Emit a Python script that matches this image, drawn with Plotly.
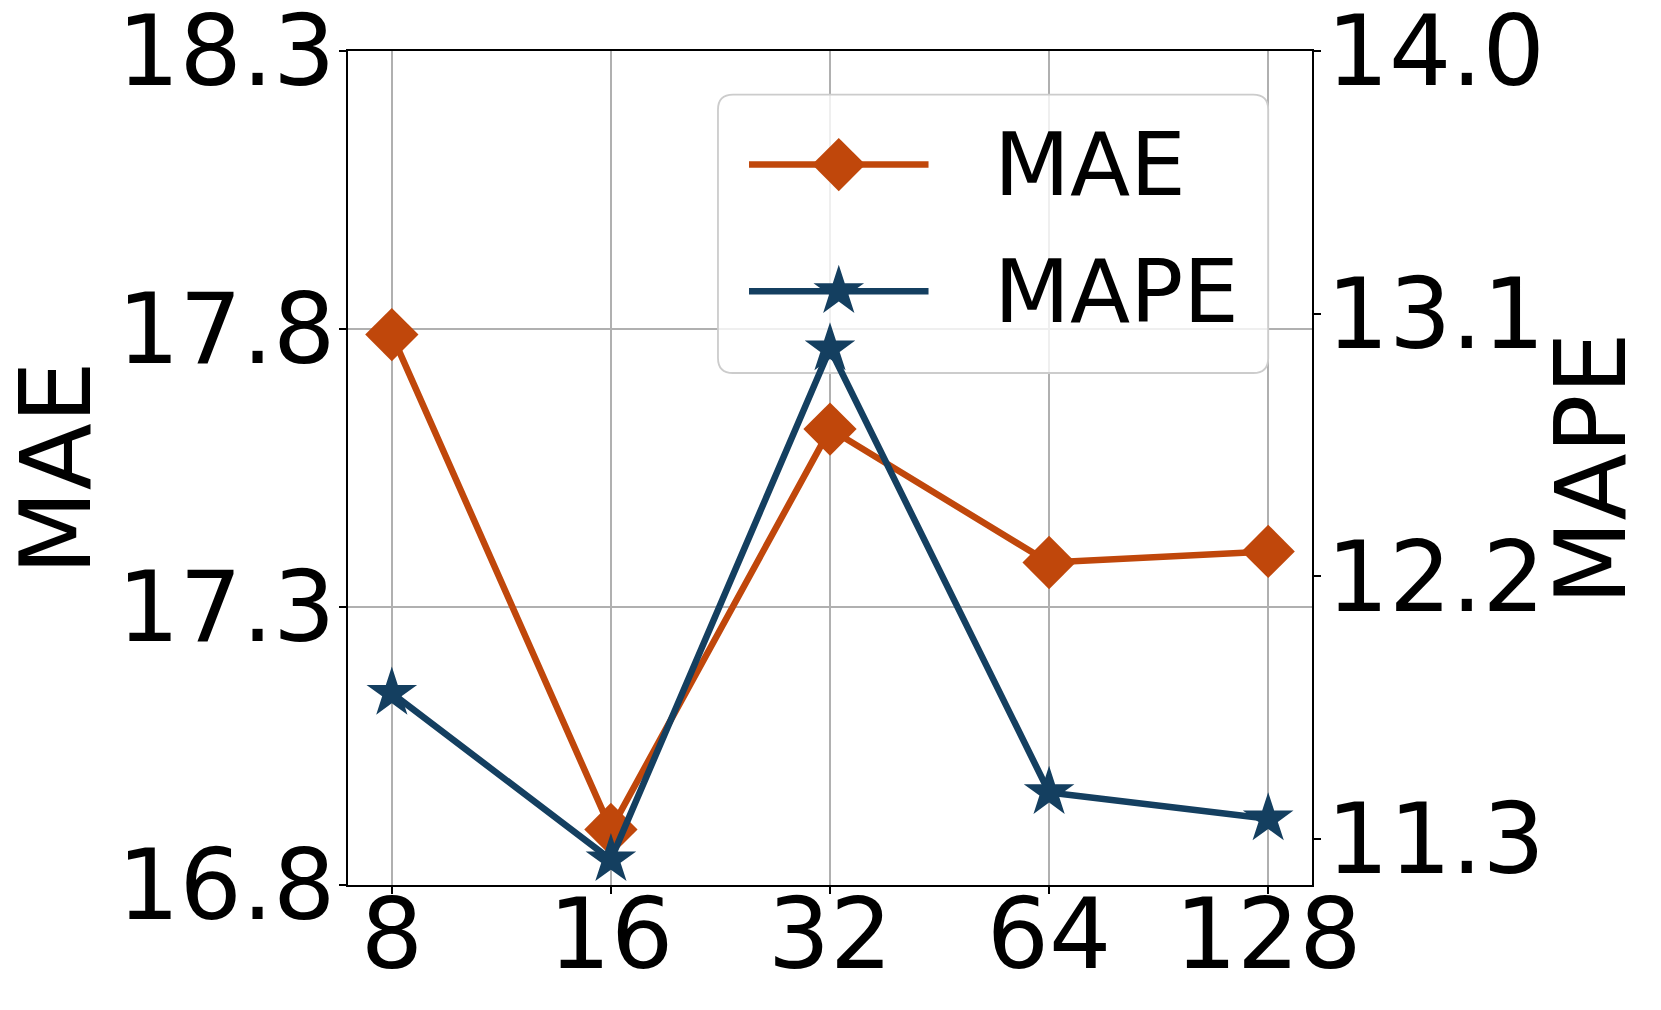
import plotly.graph_objects as go

# data
window_sizes = ["8", "16", "32", "64", "128"]
mae = [17.79, 16.90, 17.62, 17.38, 17.40]
mape = [11.80, 11.23, 12.98, 11.46, 11.37]
mae_ticks = [16.8, 17.3, 17.8, 18.3]
mape_ticks = [11.3, 12.2, 13.1, 14.0]

ORANGE = "#c0470b"
BLUE = "#143f60"
FONT = "DejaVu Sans"
LW = 6.5

X_RANGE = [-0.2, 4.2]
MAE_RANGE = [16.8, 18.3]
MAPE_RANGE = [11.143, 14.0]

fig = go.Figure()

fig.add_trace(go.Scatter(
    x=window_sizes, y=mae, name="MAE", mode="lines+markers",
    line=dict(color=ORANGE, width=LW),
    marker=dict(symbol="diamond", size=41, color=ORANGE),
    showlegend=False,
))
fig.add_trace(go.Scatter(
    x=window_sizes, y=mape, name="MAPE", mode="lines+markers", yaxis="y2",
    line=dict(color=BLUE, width=LW),
    marker=dict(symbol="star", size=38, color=BLUE),
    showlegend=False,
))

# legend drawn by hand, matplotlib style (rounded frame, long keys, big markers)
# frame position as fractions of the plot area
fx0, fx1, fy0, fy1 = 0.3838, 0.9546, 0.6139, 0.9478
rfx, rfy = 0.0156, 0.018


def to_x(f):
    return X_RANGE[0] + f * (X_RANGE[1] - X_RANGE[0])


def to_y(f):
    return MAE_RANGE[0] + f * (MAE_RANGE[1] - MAE_RANGE[0])


bx0, bx1, by0, by1 = to_x(fx0), to_x(fx1), to_y(fy0), to_y(fy1)
rx, ry = to_x(rfx) - to_x(0), to_y(rfy) - to_y(0)
fig.add_shape(
    type="path", xref="x", yref="y", layer="between",
    path=(f"M{bx0 + rx},{by0} L{bx1 - rx},{by0} Q{bx1},{by0} {bx1},{by0 + ry} "
          f"L{bx1},{by1 - ry} Q{bx1},{by1} {bx1 - rx},{by1} "
          f"L{bx0 + rx},{by1} Q{bx0},{by1} {bx0},{by1 - ry} "
          f"L{bx0},{by0 + ry} Q{bx0},{by0} {bx0 + rx},{by0} Z"),
    fillcolor="rgba(255,255,255,0.8)", line=dict(color="#cccccc", width=1.8),
)

key_line_x = [0.416, 0.6022]
key_mark_x = 0.5091
key_rows = [
    ("MAE", 0.8638, ORANGE, "diamond", 41),
    ("MAPE", 0.7118, BLUE, "star", 38),
]
for label, ky, color, symbol, size in key_rows:
    fig.add_trace(go.Scatter(
        x=key_line_x, y=[ky, ky], xaxis="x3", yaxis="y3", mode="lines",
        line=dict(color=color, width=LW),
        showlegend=False, hoverinfo="skip",
    ))
    fig.add_trace(go.Scatter(
        x=[key_mark_x], y=[ky], xaxis="x3", yaxis="y3", mode="markers",
        marker=dict(symbol=symbol, size=size, color=color),
        showlegend=False, hoverinfo="skip",
    ))
    fig.add_annotation(
        x=0.668, y=ky, xref="paper", yref="paper", text=label, showarrow=False,
        xanchor="left", yanchor="middle", font=dict(family=FONT, size=88, color="black"),
    )

# axis titles as rotated annotations so they sit where matplotlib put them
for label, px in [("MAE", -0.303), ("MAPE", 1.2894)]:
    fig.add_annotation(
        x=px, y=0.5, xref="paper", yref="paper", text=label, showarrow=False,
        textangle=-90, xanchor="center", yanchor="middle",
        font=dict(family=FONT, size=98, color="black"),
    )

axis_common = dict(
    showline=True, linecolor="black", linewidth=2,
    ticks="outside", ticklen=7, tickwidth=2, tickcolor="black",
    tickfont=dict(family=FONT, size=98, color="black"),
    ticklabeloverflow="allow",
    zeroline=False, automargin=False,
)

fig.update_layout(
    width=1653, height=1002,
    margin=dict(l=340, r=349, t=43, b=125),
    paper_bgcolor="white", plot_bgcolor="white",
    showlegend=False,
    xaxis=dict(
        type="category", range=X_RANGE, mirror=True,
        showgrid=True, gridcolor="#b0b0b0", gridwidth=1.6,
        ticklabelstandoff=-44,
        **axis_common,
    ),
    yaxis=dict(
        range=MAE_RANGE, tickvals=mae_ticks, ticktext=[f"{v:.1f}" for v in mae_ticks],
        showgrid=True, gridcolor="#b0b0b0", gridwidth=1.6,
        ticklabelstandoff=-16,
        **axis_common,
    ),
    yaxis2=dict(
        overlaying="y", side="right", range=MAPE_RANGE,
        tickvals=mape_ticks, ticktext=[f"{v:.1f}" for v in mape_ticks],
        showgrid=False,
        ticklabelstandoff=-14,
        **axis_common,
    ),
    xaxis3=dict(overlaying="x", range=[0, 1], visible=False),
    yaxis3=dict(overlaying="y", range=[0, 1], visible=False),
)

fig.write_html("out.html")
